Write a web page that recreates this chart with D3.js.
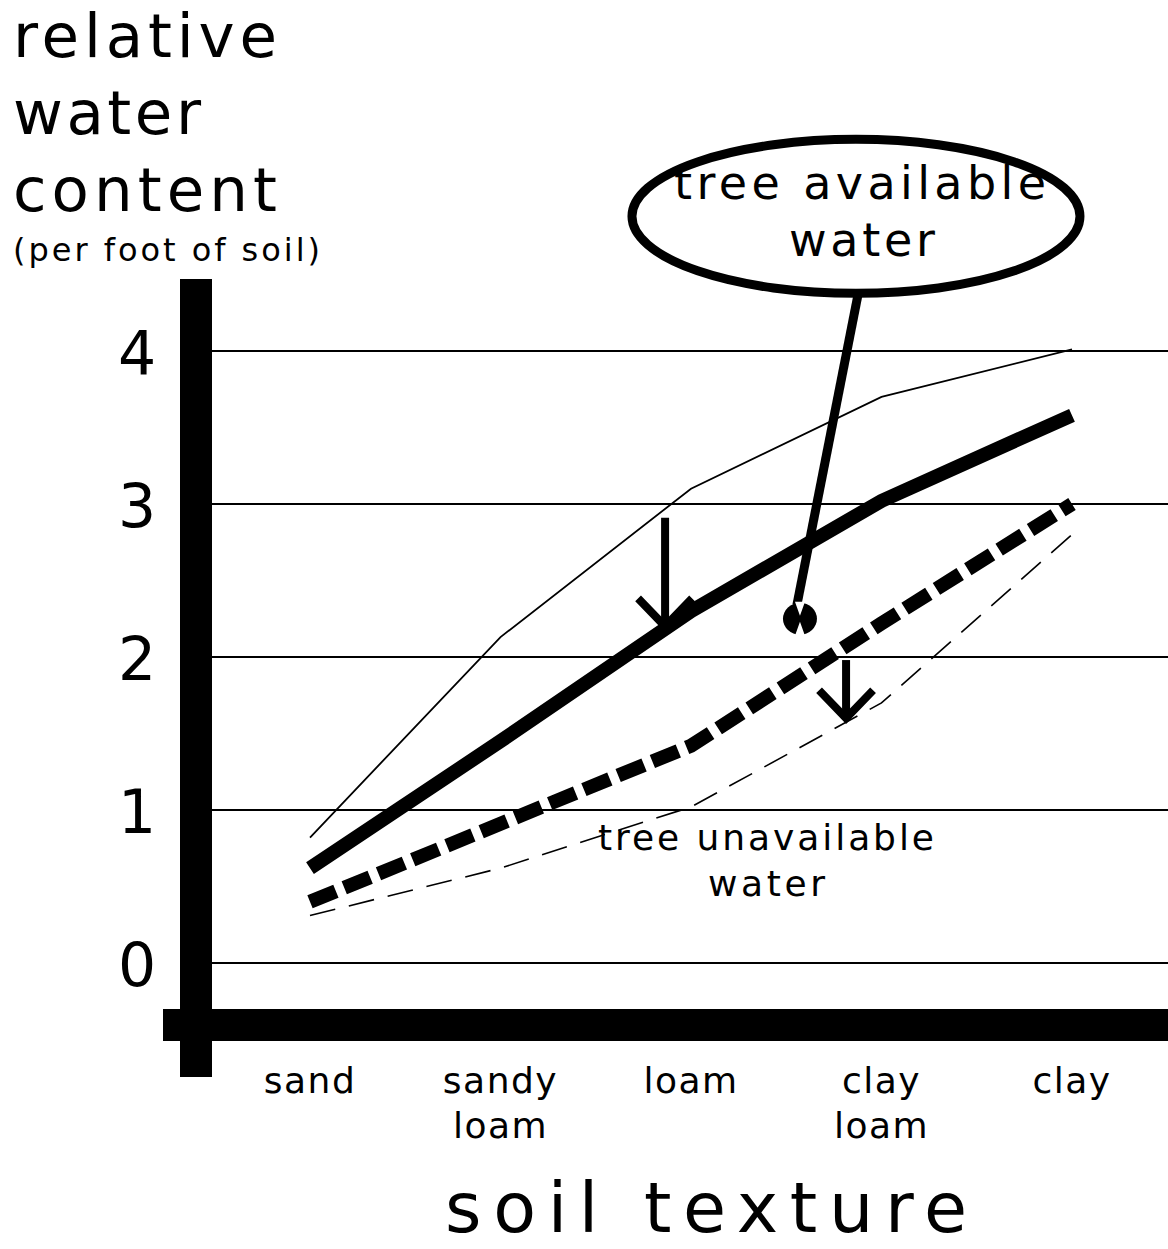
<!DOCTYPE html>
<html>
<head>
<meta charset="utf-8">
<script src="https://cdn.jsdelivr.net/npm/d3@7"></script>
<style>
  body { margin: 0; background: #fff; }
  text { font-family: "DejaVu Sans", Verdana, sans-serif; fill: #000; }
</style>
</head>
<body>
<div id="root"></div>
<script>
const width = 1168;
const height = 1249;

// data
const textures = ["sand", "sandy loam", "loam", "clay loam", "clay"];
const yTicks = [0, 1, 2, 3, 4];
const fieldCapacity = [0.82, 2.13, 3.10, 3.70, 4.01];      // thin solid
const treeUpper = [0.62, 1.45, 2.30, 3.02, 3.58];          // thick solid
const treeLower = [0.40, 0.91, 1.42, 2.22, 3.00];          // thick dashed
const wiltingPoint = [0.31, 0.62, 1.02, 1.70, 2.80];       // thin dashed

const x = d3.scalePoint().domain(textures).range([310, 1072]);
const xi = d3.scaleLinear().domain([0, textures.length - 1]).range(x.range());
const y = d3.scaleLinear().domain([0, 4]).range([963, 351]);

const svg = d3.select("#root")
  .append("svg")
    .attr("width", width)
    .attr("height", height);

// gridlines
svg.append("g")
  .selectAll("line")
  .data(yTicks).enter()
  .append("line")
    .attr("x1", 205).attr("x2", width)
    .attr("y1", d => y(d)).attr("y2", d => y(d))
    .style("stroke", "#000")
    .style("stroke-width", 2);

// y tick labels
svg.append("g")
  .selectAll("text")
  .data(yTicks).enter()
  .append("text")
    .attr("x", 137)
    .attr("y", d => y(d) + 23)
    .attr("text-anchor", "middle")
    .style("font-size", "60px")
    .text(d => d);

// heavy axes
svg.append("rect").attr("x", 180).attr("y", 279).attr("width", 32).attr("height", 798);
svg.append("rect").attr("x", 163).attr("y", 1009).attr("width", width - 163).attr("height", 32);

// series
const line = d3.line()
  .x((d, i) => x(textures[i]))
  .y(d => y(d));

const series = [
  { values: fieldCapacity, w: 1.8, dash: null },
  { values: wiltingPoint, w: 1.6, dash: "26,14" },
  { values: treeLower, w: 14, dash: "28,9" },
  { values: treeUpper, w: 14, dash: null }
];

svg.append("g")
  .selectAll("path")
  .data(series).enter()
  .append("path")
    .attr("d", d => line(d.values))
    .style("fill", "none")
    .style("stroke", "#000")
    .style("stroke-width", d => d.w)
    .style("stroke-dasharray", d => d.dash)
    .style("stroke-linejoin", "miter");

// category labels
const catLabels = svg.append("g")
  .selectAll("text")
  .data(textures).enter()
  .append("text")
    .attr("x", d => x(d))
    .attr("y", 1093)
    .attr("text-anchor", "middle")
    .style("font-size", "36px")
    .style("letter-spacing", "1.5px");

catLabels.selectAll("tspan")
  .data(d => d.split(" ")).enter()
  .append("tspan")
    .attr("x", function() { return d3.select(this.parentNode).attr("x"); })
    .attr("dy", (d, i) => i === 0 ? 0 : 45)
    .text(d => d);

// axis titles
const title = ["relative", "water", "content"];
const titleW = [264, 188, 264];
svg.append("g")
  .selectAll("text")
  .data(title).enter()
  .append("text")
    .attr("x", 13)
    .attr("y", (d, i) => 57 + i * 77)
    .attr("textLength", (d, i) => titleW[i])
    .attr("lengthAdjust", "spacing")
    .style("font-size", "61px")
    .text(d => d);

svg.append("text")
  .attr("x", 13).attr("y", 261)
  .attr("textLength", 307).attr("lengthAdjust", "spacing")
  .style("font-size", "32px")
  .text("(per foot of soil)");

svg.append("text")
  .attr("x", 445).attr("y", 1232)
  .attr("textLength", 522).attr("lengthAdjust", "spacing")
  .style("font-size", "70px")
  .text("soil texture");

// arrows from field capacity down to the tree-available lines
const arrows = [
  { i: 1.864, from: 2.91, to: 2.20 },
  { i: 2.814, from: 1.98, to: 1.60 }
];
const arrowG = svg.append("g")
  .selectAll("g")
  .data(arrows).enter()
  .append("g");
arrowG.append("line")
  .attr("x1", d => xi(d.i)).attr("x2", d => xi(d.i))
  .attr("y1", d => y(d.from)).attr("y2", d => y(d.to) - 3)
  .style("stroke", "#000").style("stroke-width", 8);
arrowG.append("path")
  .attr("d", d => {
    const ax = xi(d.i), ay = y(d.to);
    return `M ${ax - 27} ${ay - 28} L ${ax} ${ay} L ${ax + 27} ${ay - 28}`;
  })
  .style("fill", "none").style("stroke", "#000").style("stroke-width", 8);

// callout: tree available water
const callout = { i: 2.866, v: 4.88, tipI: 2.556, tipV: 2.34, bulbI: 2.572, bulbV: 2.25 };
const cx = xi(callout.i), cy = y(callout.v);
svg.append("line")
  .attr("x1", xi(2.877)).attr("y1", cy + 78)
  .attr("x2", xi(callout.tipI)).attr("y2", y(callout.tipV))
  .style("stroke", "#000").style("stroke-width", 9);
svg.append("ellipse")
  .attr("cx", cx).attr("cy", cy)
  .attr("rx", 224).attr("ry", 77)
  .style("fill", "#fff").style("stroke", "#000").style("stroke-width", 9);

const bx = xi(callout.bulbI), by = y(callout.bulbV);
svg.append("ellipse")
  .attr("cx", bx).attr("cy", by).attr("rx", 17).attr("ry", 16)
  .style("fill", "#000");
svg.append("path")
  .attr("d", `M ${bx - 5} ${by - 17} L ${bx} ${by - 3} L ${bx + 5} ${by - 17} Z M ${bx - 5} ${by + 17} L ${bx} ${by + 3} L ${bx + 5} ${by + 17} Z`)
  .style("fill", "#fff");

svg.append("text")
  .attr("x", 674).attr("y", 199)
  .attr("textLength", 372).attr("lengthAdjust", "spacing")
  .style("font-size", "46px")
  .text("tree available");
svg.append("text")
  .attr("x", 789).attr("y", 256)
  .attr("textLength", 146).attr("lengthAdjust", "spacing")
  .style("font-size", "46px")
  .text("water");

// label: tree unavailable water
svg.append("text")
  .attr("x", 598).attr("y", 850)
  .attr("textLength", 336).attr("lengthAdjust", "spacing")
  .style("font-size", "36px")
  .text("tree unavailable");
svg.append("text")
  .attr("x", 708).attr("y", 896)
  .attr("textLength", 117).attr("lengthAdjust", "spacing")
  .style("font-size", "36px")
  .text("water");
</script>
</body>
</html>
